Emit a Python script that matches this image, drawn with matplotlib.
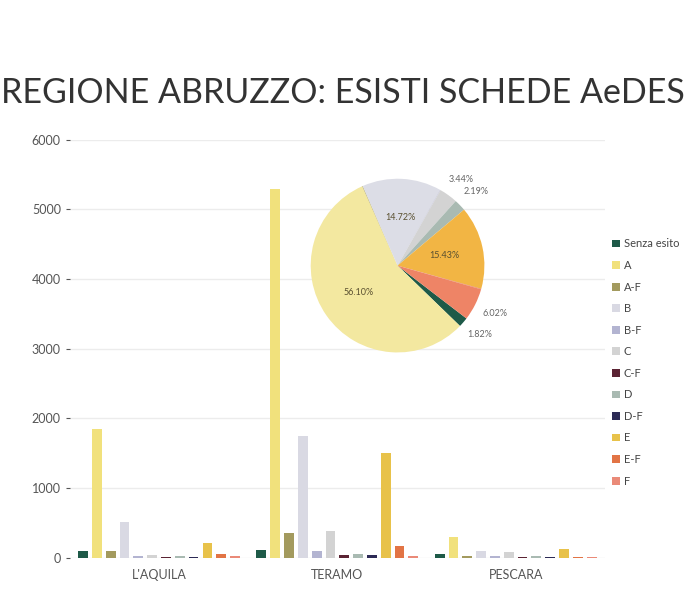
import numpy as np
import matplotlib
matplotlib.use("Agg")
import matplotlib.pyplot as plt

plt.rcParams['font.family'] = ['Lato', 'DejaVu Sans']

# dati
province = ["L'AQUILA", "TERAMO", "PESCARA"]
esiti = ["Senza esito", "A", "A-F", "B", "B-F", "C", "C-F", "D", "D-F", "E", "E-F", "F"]
colori = ["#1e5a48", "#f1e17c", "#a39a5e", "#d9d9e3", "#b3b4d1", "#d3d3d3",
          "#5b2333", "#a9bab2", "#2c2a55", "#e8c24a", "#e27445", "#ea8a78"]

# numero schede per esito (righe) e provincia (colonne)
schede = [
    [100, 110, 60],     # Senza esito
    [1850, 5300, 300],  # A
    [100, 350, 20],     # A-F
    [520, 1750, 100],   # B
    [30, 100, 20],      # B-F
    [40, 380, 80],      # C
    [10, 40, 10],       # C-F
    [20, 50, 20],       # D
    [10, 40, 10],       # D-F
    [210, 1500, 130],   # E
    [60, 170, 10],      # E-F
    [20, 30, 10],       # F
]

# percentuali regione (torta)
perc = [1.82, 56.10, 0.10, 14.72, 0.08, 3.44, 0.0, 2.19, 0.0, 15.43, 0.10, 6.02]
col_torta = ["#1e5a48", "#f3e8a0", "#a39a5e", "#dcdde6", "#b3b4d1", "#d3d3d3",
             "#5b2333", "#a9bab2", "#2c2a55", "#f2b544", "#e27445", "#ee8466"]

fig = plt.figure(figsize=(6.92, 6.05), dpi=100)
ax = fig.add_axes([0.101, 0.078, 0.773, 0.691])

x = np.arange(len(province))
slot = 0.0775
w = 0.055
for i, (nome, col) in enumerate(zip(esiti, colori)):
    ax.bar(x + (i - 5.5)*slot, schede[i], w, color=col, label=nome)

ax.set_xlim(-0.5, 2.5)
ax.set_ylim(0, 6000)
ax.set_yticks(np.arange(0, 6001, 1000))
ax.set_xticks(x)
ax.set_xticklabels(province)
ax.tick_params(axis='y', labelsize=9, colors='#555555', length=3)
ax.tick_params(axis='x', labelsize=9, colors='#555555', length=0, pad=8)
ax.yaxis.grid(True, color='#ececec', lw=1)
ax.set_axisbelow(True)
for s in ax.spines.values():
    s.set_visible(False)

ax.legend(loc='upper left', bbox_to_anchor=(0.877, 0.615), bbox_transform=fig.transFigure,
          frameon=False, fontsize=8, handlelength=0.7, handleheight=0.7,
          handletextpad=0.3, labelspacing=0.95, labelcolor='#444444', borderpad=0)

# torta
pax = fig.add_axes([0.449, 0.417, 0.251, 0.288])
lbl = lambda p: '%.2f%%' % p if p >= 1 else ''
wedges, _, autot = pax.pie(perc, colors=col_torta, startangle=-37.5, counterclock=False,
                           autopct=lbl, pctdistance=0.55,
                           textprops=dict(fontsize=6.5, color='#5a5030'))
for wd, t, p in zip(wedges, autot, perc):
    if 0 < p < 7:
        ang = np.deg2rad((wd.theta1 + wd.theta2)/2)
        t.set_position((1.25*np.cos(ang), 1.22*np.sin(ang)))
        t.set_color('#666666')
pax.set_xlim(-1, 1)
pax.set_ylim(-1, 1)

fig.text(0.002, 0.83, "REGIONE ABRUZZO: ESISTI SCHEDE AeDES", fontsize=24.5,
         color='#333333', ha='left', va='baseline')

fig.savefig("out.png", dpi=100)
